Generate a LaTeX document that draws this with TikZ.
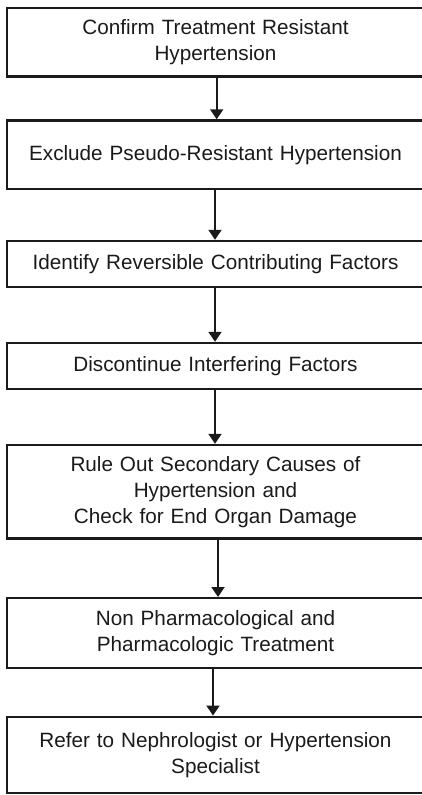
\documentclass[tikz,border=0pt]{standalone}
\usepackage{fontspec}
\setmainfont{Liberation Sans}
\usetikzlibrary{arrows.meta}
\definecolor{ink}{HTML}{1A1A1A}
\tikzset{
  stepbox/.style={draw=ink, line width=2.4pt, minimum width=417pt, inner sep=0pt,
    text=ink, align=center, font=\fontsize{20.7pt}{26pt}\selectfont, text width=400pt},
  arr/.style={draw=ink, line width=1.9pt, -{Triangle[width=13pt,length=10pt]}}
}
\begin{document}
\begin{tikzpicture}[x=1pt,y=1pt]
\useasboundingbox (0,0) rectangle (421,-795);
\node[stepbox, minimum height=68.5pt] (b1) at (215.5,-42.25) {Confirm Treatment Resistant\\Hypertension};
\node[stepbox, minimum height=68.5pt] (b2) at (215.5,-154.75) {Exclude Pseudo-Resistant Hypertension};
\node[stepbox, minimum height=46pt] (b3) at (215.5,-264) {Identify Reversible Contributing Factors};
\node[stepbox, minimum height=46pt] (b4) at (215.5,-366) {Discontinue Interfering Factors};
\node[stepbox, minimum height=93.3pt] (b5) at (215.5,-491.65) {Rule Out Secondary Causes of\\Hypertension and\\Check for End Organ Damage};
\node[stepbox, minimum height=70pt] (b6) at (215.5,-633.2) {Non Pharmacological and\\Pharmacologic Treatment};
\node[stepbox, minimum height=76.5pt] (b7) at (215.5,-755) {Refer to Nephrologist or Hypertension\\Specialist};
\draw[arr] ([xshift=1.2pt]b1.south) -- ([xshift=1.2pt]b2.north);
\draw[arr] ([xshift=-0.5pt]b2.south) -- ([xshift=-0.5pt]b3.north);
\draw[arr] ([xshift=-0.5pt]b3.south) -- ([xshift=-0.5pt]b4.north);
\draw[arr] ([xshift=-0.5pt]b4.south) -- ([xshift=-0.5pt]b5.north);
\draw[arr] ([xshift=2.5pt]b5.south) -- ([xshift=2.5pt]b6.north);
\draw[arr] ([xshift=-2.5pt]b6.south) -- ([xshift=-2.5pt]b7.north);
\end{tikzpicture}
\end{document}
